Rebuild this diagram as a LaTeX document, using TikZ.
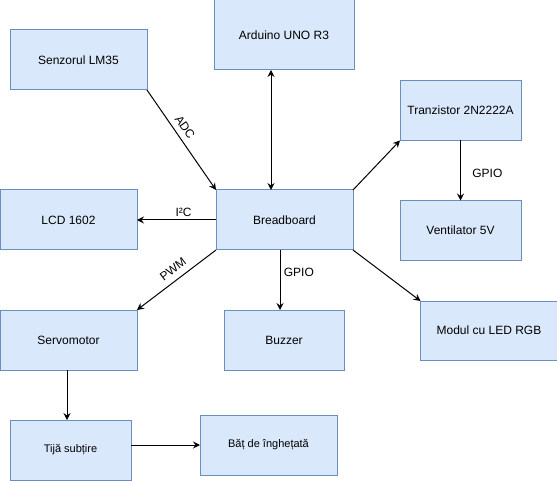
\documentclass[tikz,border=0pt]{standalone}
\usepackage{fontspec}
\setmainfont{Liberation Sans}
\usetikzlibrary{shapes,arrows,arrows.meta,positioning}

\definecolor{boxfill}{HTML}{DAE8FC}
\definecolor{boxline}{HTML}{6C8EBF}

\begin{document}
\begin{tikzpicture}[x=1pt, y=-1pt, node distance=120pt, auto]
    % Define styles
    \tikzstyle{block} = [rectangle, minimum width=137pt, minimum height=60pt, inner sep=0pt, outer sep=0pt, text centered, draw=boxline, fill=boxfill, line width=1pt, font=\fontsize{12}{14}\selectfont]
    \tikzstyle{small} = [block, minimum width=121pt]
    \tikzstyle{arrow} = [line width=1pt, ->, >={Stealth[length=7pt, width=7pt, inset=2.5pt]}]
    \tikzstyle{lbl} = [font=\fontsize{12}{14}\selectfont]

    \useasboundingbox (0,0) rectangle (557,481);

    % Blocks
    \node [block] (breadboard) at (284.5,220) {Breadboard};
    \node [block, minimum width=140pt, minimum height=70pt] (arduino) at (284,35) {Arduino UNO R3};
    \node [block] (senzor) at (78.5,60) {Senzorul LM35};
    \node [block] (lcd) at (68.5,220) {LCD 1602};
    \node [block, below of=lcd] (servomotor) {Servomotor};
    \node [small, below of=breadboard, xshift=-0.5pt, minimum width=120pt] (buzzer) {Buzzer};
    \node [small] (tranzistor) at (460.5,110.5) {Tranzistor 2N2222A};
    \node [small, below of=tranzistor] (ventilator) {Ventilator 5V};
    \node [block, minimum height=59pt] (modul) at (489,330.5) {Modul cu LED RGB};
    \node [small, font=\fontsize{11}{13}\selectfont] (tija) at (70.5,450) {Tijă subțire};
    \node [block, font=\fontsize{11}{13}\selectfont] (bat) at (268.5,445) {Băț de înghețată};

    % Arrows
    \draw [arrow] (senzor.south east) -- node [lbl, pos=0.43, above=2pt, sloped] {ADC} (breadboard.north west);
    \draw [arrow, <->] ([xshift=-13pt]arduino.south) -- ([xshift=-13.5pt]breadboard.north);
    \draw [arrow] (breadboard.west) -- node [lbl, pos=0.41, above] {I²C} (lcd.east);
    \draw [arrow] (breadboard.south west) -- node [lbl, pos=0.46, above=3pt, sloped] {PWM} (servomotor.north east);
    \draw [arrow] ([xshift=-4.5pt]breadboard.south) -- node [lbl, pos=0.38, right] {GPIO} ([xshift=-4pt]buzzer.north);
    \draw [arrow] (breadboard.north east) -- (tranzistor.south west);
    \draw [arrow] (tranzistor) -- node [lbl, pos=0.54, right=8pt] {GPIO} (ventilator);
    \draw [arrow] (breadboard.south east) -- (modul.north west);
    \draw [arrow] ([xshift=-1.5pt]servomotor.south) -- ([xshift=-1.5pt]servomotor.south |- tija.north);
    \draw [arrow] (tija.east |- bat.west) -- (bat.west);
\end{tikzpicture}
\end{document}
